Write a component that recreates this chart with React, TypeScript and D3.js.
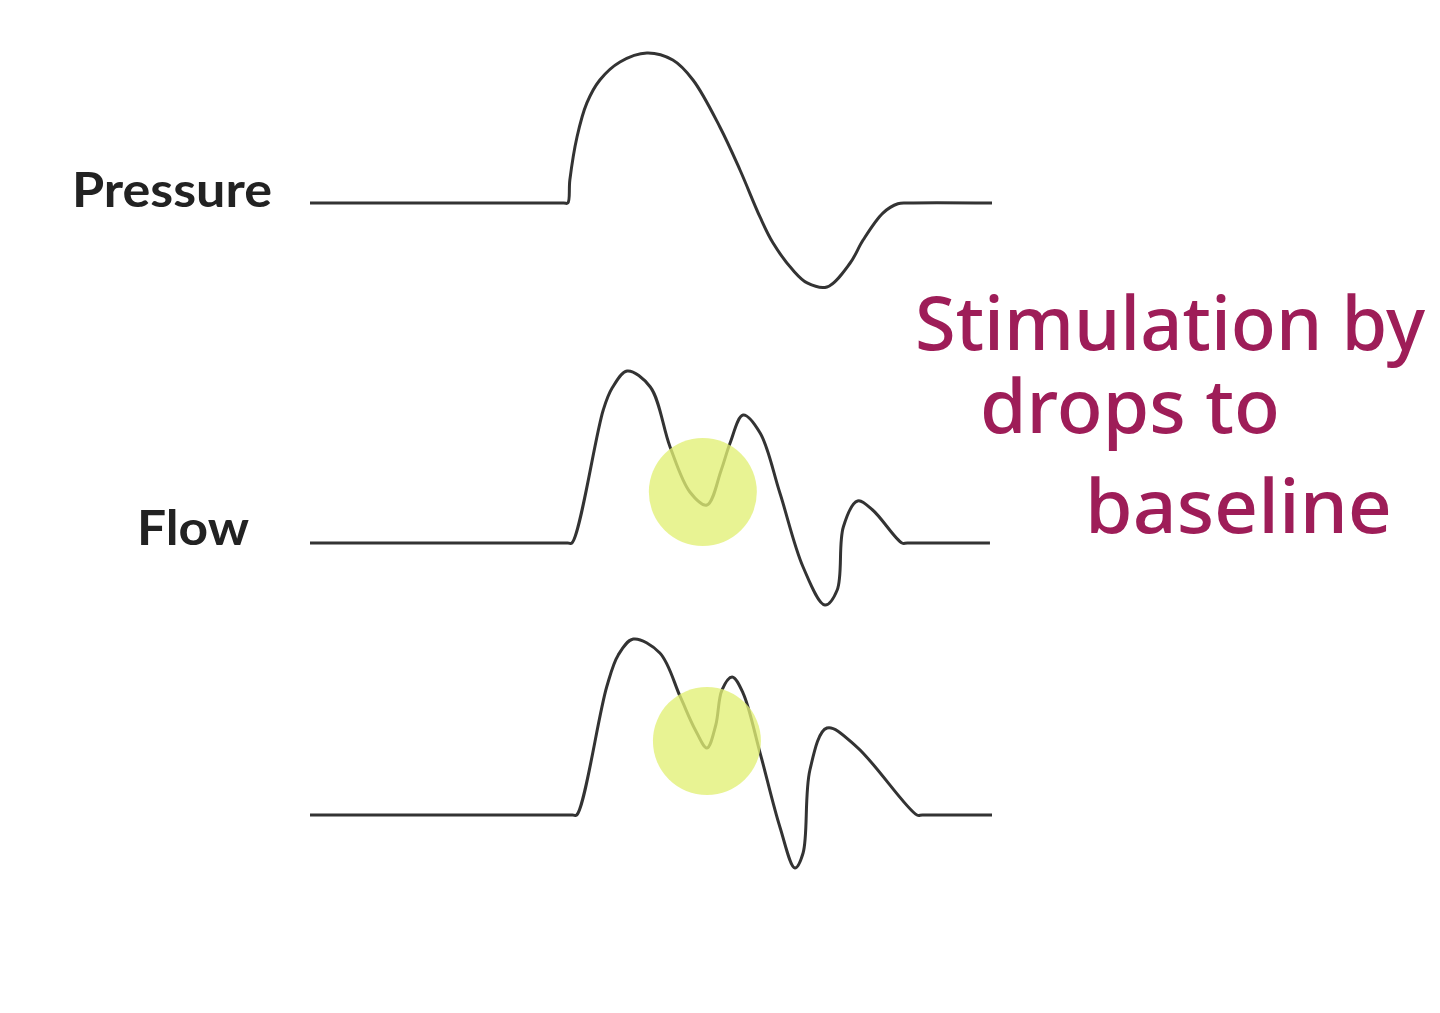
import React from "react";
import * as d3 from "d3";

// time units (0..1000) and amplitude units (baseline 0)
const pressureT = [0, 372, 378, 381, 391.5, 406, 425, 454.5, 494, 532, 561.6, 601, 630.5, 659.8, 679, 708, 729, 758, 792, 811, 840, 862, 878, 1000];
const pressureV = [0, 0, 0, 0.153, 0.44, 0.667, 0.82, 0.94, 1.0, 0.953, 0.82, 0.507, 0.22, -0.093, -0.267, -0.447, -0.533, -0.56, -0.4, -0.247, -0.067, -0.005, 0, 0];

const flowT = [0, 378, 384, 430, 443, 465, 499, 528, 557, 582, 603, 616, 635, 660, 689, 723, 755, 773, 782, 803, 825, 868, 876, 997];
const flowV = [0, 0, 0, 0.887, 1.033, 1.147, 1.04, 0.64, 0.34, 0.253, 0.487, 0.667, 0.853, 0.733, 0.333, -0.16, -0.413, -0.313, 0.107, 0.28, 0.22, 0, 0, 0];

const flow2T = [0, 385, 391, 435, 452, 474, 513, 543, 565, 582, 595, 604, 619, 635, 660, 689, 711, 723, 733, 758, 802, 890, 898, 1000];
const flow2V = [0, 0, 0, 0.853, 1.067, 1.173, 1.08, 0.787, 0.567, 0.447, 0.6, 0.833, 0.92, 0.813, 0.413, -0.08, -0.353, -0.253, 0.3, 0.58, 0.453, 0, 0, 0];

const seriesLabels = ["Pressure", "Flow", ""];
const highlightT = [576, 582];
const highlightV = [0.34, 0.493];
const noteLines = ["Stimulation by", "drops to", "baseline"];

export default function App() {
  React.useEffect(() => {
    document.body.style.margin = "0";
  }, []);
  const W = 1440, H = 1013;
  const x = d3.scaleLinear().domain([0, 1000]).range([310, 992]);
  const baselines = [203, 543, 815];
  const ys = baselines.map((b) => d3.scaleLinear().domain([0, 1]).range([b, b - 150]));
  const series = [
    { t: pressureT, v: pressureV },
    { t: flowT, v: flowV },
    { t: flow2T, v: flow2V },
  ];
  const paths = series.map((s, i) => {
    const pts: [number, number][] = s.t.map((t, j) => [t, s.v[j]]);
    const line = d3
      .line<[number, number]>()
      .x((d) => x(d[0]))
      .y((d) => ys[i](d[1]))
      .curve(d3.curveCatmullRom.alpha(0.5));
    return line(pts) || "";
  });
  const labelPos = [
    { x: 72, y: 207, len: 200 },
    { x: 137, y: 545, len: 112 },
  ];
  const notePos = [
    { x: 915, y: 350, len: 510 },
    { x: 980, y: 433, len: 300 },
    { x: 1085, y: 533, len: 307 },
  ];
  return (
    <svg width={W} height={H} style={{ display: "block", background: "#fff" }}>
      <rect width={W} height={H} fill="#fff" />
      {paths.map((p, i) => (
        <path key={i} d={p} fill="none" stroke="#333" strokeWidth={3} strokeLinejoin="round" />
      ))}
      {highlightT.map((t, i) => (
        <circle
          key={i}
          cx={x(t)}
          cy={ys[i + 1](highlightV[i])}
          r={54}
          fill="#e2f075"
          opacity={0.78}
        />
      ))}
      {seriesLabels.map((l, i) =>
        l && labelPos[i] ? (
          <text
            key={i}
            x={labelPos[i].x}
            y={labelPos[i].y}
            fontFamily="Lato, 'Open Sans', sans-serif"
            fontWeight={700}
            fontSize={47}
            fill="#222"
            textLength={labelPos[i].len}
            lengthAdjust="spacingAndGlyphs"
          >
            {l}
          </text>
        ) : null
      )}
      {noteLines.map((l, i) => (
        <text
          key={i}
          x={notePos[i].x}
          y={notePos[i].y}
          fontFamily="'Noto Sans', sans-serif"
          fontWeight={500}
          fontSize={74}
          fill="#9e1d58"
          textLength={notePos[i].len}
          lengthAdjust="spacingAndGlyphs"
        >
          {l}
        </text>
      ))}
    </svg>
  );
}
